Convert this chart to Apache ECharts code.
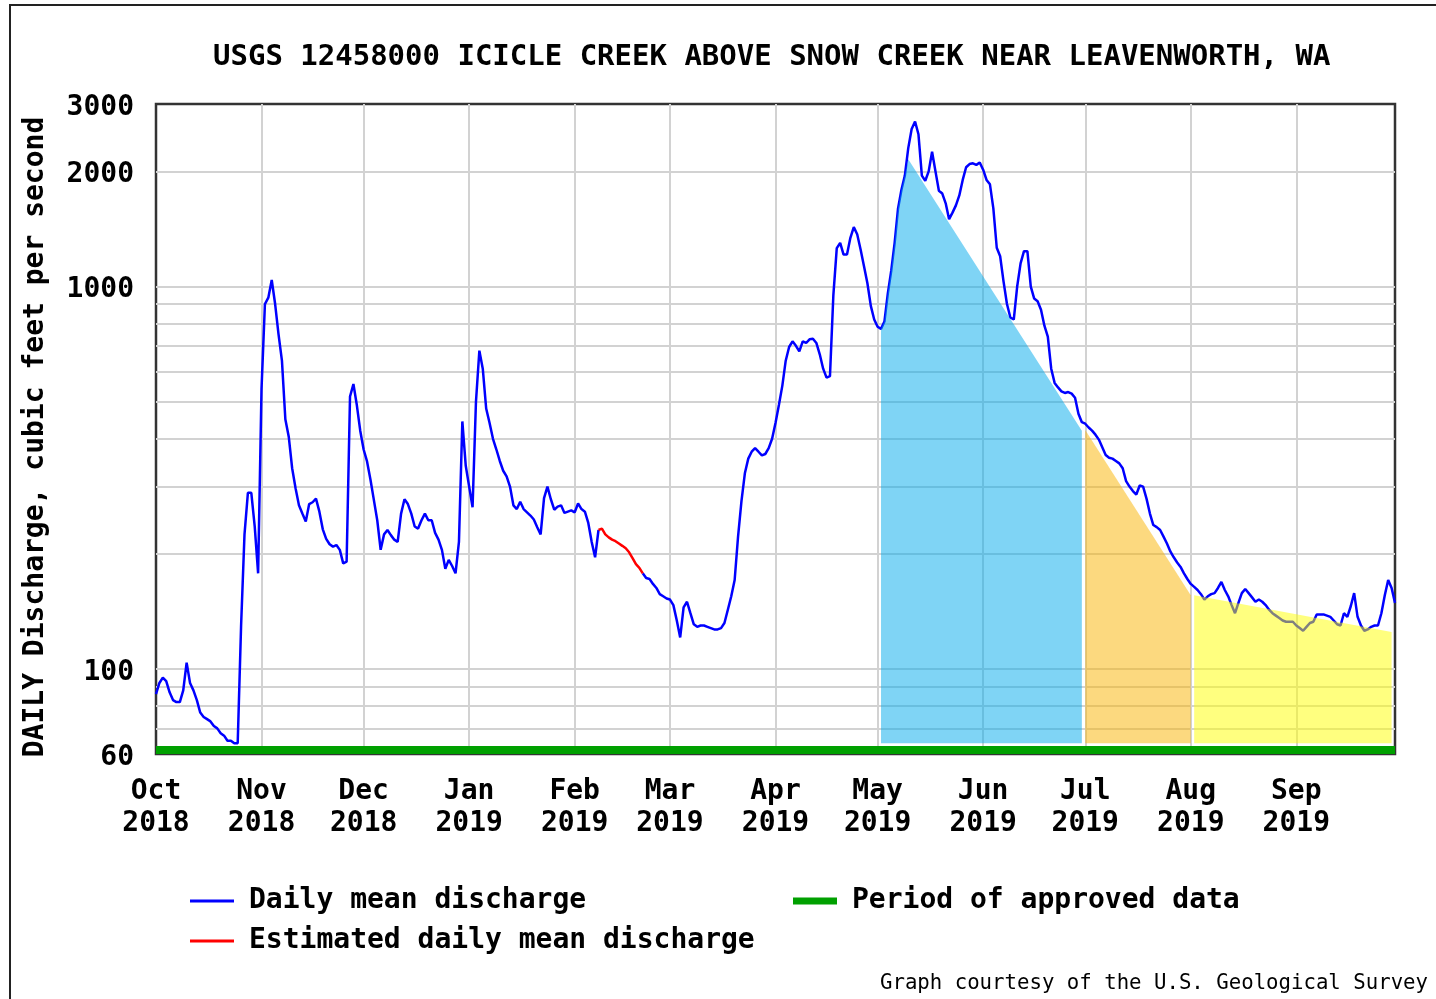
<!DOCTYPE html>
<html>
<head>
<meta charset="utf-8">
<script src="https://cdn.jsdelivr.net/npm/echarts@6/dist/echarts.min.js"></script>
<style>
html,body{margin:0;padding:0;background:#fff;}
#c{width:1436px;height:999px;}
</style>
</head>
<body>
<div id="c"></div>
<script>
// ---- Daily mean discharge, cubic feet per second ----
const oct2018 = [86, 92, 95, 93, 87, 83, 82, 82, 88, 104, 92, 88, 83, 77, 75, 74, 73, 71, 70, 68, 67, 65, 65, 64, 64, 130, 225, 289, 289, 236, 178];
const nov2018 = [540, 900, 935, 1040, 900, 750, 640, 450, 405, 335, 297, 268, 255, 243, 270, 273, 279, 258, 232, 219, 212, 209, 211, 205, 189, 191, 516, 556, 490, 420];
const dec2018 = [375, 349, 313, 277, 245, 205, 225, 231, 224, 218, 215, 255, 278, 270, 255, 236, 233, 245, 255, 245, 245, 227, 218, 205, 183, 193, 186, 178, 215, 444, 340];
const jan2019 = [300, 265, 500, 680, 610, 480, 440, 400, 375, 350, 330, 319, 300, 268, 262, 274, 262, 257, 252, 246, 235, 225, 280, 300, 278, 261, 266, 268, 256, 258, 260];
const feb2019 = [257, 271, 262, 258, 241, 215, 196, 231, 233, 225, 221, 218, 216, 213, 210, 207, 202, 195, 188, 184, 178, 173, 172, 167, 163, 157, 155, 153];
const mar2019 = [152, 147, 134, 121, 145, 150, 140, 131, 129, 130, 130, 129, 128, 127, 127, 128, 132, 143, 155, 171, 222, 275, 325, 355, 370, 378, 370, 362, 365, 378, 400];
const apr2019 = [440, 490, 550, 640, 695, 719, 700, 677, 719, 712, 728, 730, 712, 665, 610, 578, 583, 950, 1260, 1300, 1212, 1212, 1341, 1430, 1370, 1250, 1130, 1020, 890, 820];
const may2019 = [785, 775, 810, 960, 1100, 1300, 1600, 1790, 1950, 2300, 2580, 2700, 2500, 1950, 1890, 2000, 2250, 2000, 1780, 1750, 1650, 1500, 1560, 1630, 1730, 1900, 2050, 2090, 2100, 2080, 2110];
const jun2019 = [2020, 1900, 1850, 1600, 1263, 1200, 1030, 900, 830, 820, 1000, 1150, 1237, 1237, 1000, 930, 915, 870, 790, 740, 610, 560, 545, 532, 527, 530, 525, 512, 465, 442];
const jul2019 = [438, 428, 420, 410, 398, 380, 363, 357, 355, 350, 345, 335, 310, 300, 292, 286, 302, 300, 279, 255, 238, 235, 231, 222, 213, 203, 196, 190, 185, 178, 172];
const aug2019 = [167, 164, 161, 157, 152, 155, 157, 158, 163, 169, 161, 155, 147, 140, 149, 158, 162, 158, 154, 150, 152, 150, 147, 143, 140, 138, 136, 134, 133, 133, 133];
const sep2019 = [130, 128, 126, 129, 132, 133, 139, 139, 139, 138, 137, 134, 131, 130, 140, 137, 146, 158, 137, 130, 126, 127, 129, 130, 130, 140, 156, 171, 163, 149];

const monthBlocks = [
  ['2018-10', oct2018], ['2018-11', nov2018], ['2018-12', dec2018],
  ['2019-01', jan2019], ['2019-02', feb2019], ['2019-03', mar2019],
  ['2019-04', apr2019], ['2019-05', may2019], ['2019-06', jun2019],
  ['2019-07', jul2019], ['2019-08', aug2019], ['2019-09', sep2019]
];

// Estimated (red) stretch and approved-data period
const estimatedFrom = '2019-02-08';
const estimatedTo = '2019-02-21';
const approvedPeriod = ['2018-10-01', '2019-09-30'];

// Shaded recession areas: [date, cfs]
const recessionBlue = [
  ['2019-05-02', 775], ['2019-05-03', 810], ['2019-05-04', 960], ['2019-05-05', 1100],
  ['2019-05-06', 1300], ['2019-05-07', 1600], ['2019-05-08', 1790], ['2019-05-09', 1950],
  ['2019-05-10', 2150], ['2019-06-30', 420]
];
const recessionOrange = [['2019-07-01', 422], ['2019-08-01', 156]];
const recessionYellow = [['2019-08-02', 156], ['2019-09-29', 125]];
const fillBase = 64;

// Axis ticks
const yMin = 60, yMax = 3000;
const yLabelValues = [60, 100, 1000, 2000, 3000];
const yGridValues = [70, 80, 90, 100, 200, 300, 400, 500, 600, 700, 800, 900, 1000, 2000];
const monthNames = ['Jan','Feb','Mar','Apr','May','Jun','Jul','Aug','Sep','Oct','Nov','Dec'];

// ---- Build category dates and series ----
const dates = [];
const discharge = [];
monthBlocks.forEach(([ym, vals]) => {
  vals.forEach((v, i) => {
    dates.push(ym + '-' + String(i + 1).padStart(2, '0'));
    discharge.push(v);
  });
});
const estA = dates.indexOf(estimatedFrom);
const estB = dates.indexOf(estimatedTo);
const measuredData = discharge.map((v, i) => (i > estA && i < estB) ? null : v);
const estimatedData = discharge.map((v, i) => (i >= estA && i <= estB) ? v : null);

const FONT = "'DejaVu Sans Mono', 'Liberation Mono', monospace";
const gridColor = '#d2d2d2';
const boldText = { fontFamily: FONT, fontSize: 28, fontWeight: 'bold', color: '#000' };

function fillSeries(name, pts, color) {
  return {
    type: 'custom',
    name: name,
    silent: true,
    z: 3,
    data: [pts[0]],
    renderItem: function (params, api) {
      const poly = pts.map(p => api.coord(p));
      poly.push(api.coord([pts[pts.length - 1][0], fillBase]));
      poly.push(api.coord([pts[0][0], fillBase]));
      return { type: 'polygon', shape: { points: poly }, style: { fill: color } };
    }
  };
}

const chart = echarts.init(document.getElementById('c'), null, { renderer: 'canvas' });
chart.setOption({
  animation: false,
  backgroundColor: '#ffffff',
  title: [
    {
      text: 'USGS 12458000 ICICLE CREEK ABOVE SNOW CREEK NEAR LEAVENWORTH, WA',
      left: 213, top: 43, padding: 0,
      textStyle: { fontFamily: FONT, fontSize: 29, fontWeight: 'bold', color: '#000' }
    },
    {
      text: 'Graph courtesy of the U.S. Geological Survey',
      right: 8, top: 973, padding: 0,
      textStyle: { fontFamily: FONT, fontSize: 20.7, fontWeight: 'normal', color: '#000' }
    }
  ],
  graphic: [
    { type: 'rect', z: 100, silent: true, shape: { x: 10, y: 5, width: 1440, height: 1010 },
      style: { fill: 'none', stroke: '#222', lineWidth: 2 } }
  ],
  legend: [
    {
      orient: 'vertical', left: 190, top: 887, padding: 0, itemGap: 12,
      itemWidth: 44, itemHeight: 3, icon: 'rect',
      data: ['Daily mean discharge', 'Estimated daily mean discharge'],
      textStyle: Object.assign({ lineHeight: 28, padding: [0, 0, 0, 10] }, boldText)
    },
    {
      orient: 'vertical', left: 793, top: 887, padding: 0,
      itemWidth: 44, itemHeight: 7, icon: 'rect',
      data: ['Period of approved data'],
      textStyle: Object.assign({ lineHeight: 28, padding: [0, 0, 0, 10] }, boldText)
    }
  ],
  grid: {
    left: 156, right: 41, top: 104, bottom: 245,
    show: true, borderColor: '#333', borderWidth: 2.5, backgroundColor: 'transparent'
  },
  xAxis: {
    type: 'category',
    data: dates,
    boundaryGap: false,
    axisLine: { show: false },
    axisTick: { show: false },
    axisLabel: Object.assign({
      interval: (i, v) => v.endsWith('-01'),
      formatter: v => monthNames[parseInt(v.slice(5, 7), 10) - 1] + '\n' + v.slice(0, 4),
      lineHeight: 32, margin: 22
    }, boldText),
    splitLine: {
      show: true,
      interval: (i, v) => i > 0 && v.endsWith('-01'),
      lineStyle: { color: gridColor, width: 2 }
    }
  },
  yAxis: {
    type: 'log',
    logBase: 10,
    min: yMin,
    max: yMax,
    axisLine: { show: false },
    axisTick: { show: false, customValues: yGridValues },
    axisLabel: Object.assign({
      customValues: yLabelValues,
      formatter: v => '{v|' + String(Math.round(v)) + '}',
      margin: 22,
      rich: { v: Object.assign({ padding: [7, 0, 0, 0] }, boldText) }
    }, boldText),
    splitLine: { show: true, lineStyle: { color: gridColor, width: 2 } },
    minorSplitLine: { show: false },
    name: 'DAILY Discharge, cubic feet per second',
    nameLocation: 'middle',
    nameGap: 106,
    nameTextStyle: Object.assign({ padding: [0, 16, 0, 0] }, boldText)
  },
  series: [
    {
      type: 'line', name: 'Daily mean discharge',
      data: measuredData, showSymbol: false, symbol: 'none', connectNulls: false, z: 2,
      itemStyle: { color: '#0000ff' },
      lineStyle: { color: '#0000ff', width: 2.5 }
    },
    {
      type: 'line', name: 'Estimated daily mean discharge',
      data: estimatedData, showSymbol: false, symbol: 'none', connectNulls: false, z: 2,
      itemStyle: { color: '#ff0000' },
      lineStyle: { color: '#ff0000', width: 2.5 }
    },
    fillSeries('recession-1', recessionBlue, 'rgba(0,170,236,0.5)'),
    fillSeries('recession-2', recessionOrange, 'rgba(250,180,0,0.5)'),
    fillSeries('recession-3', recessionYellow, 'rgba(255,255,0,0.5)'),
    {
      type: 'custom', name: 'Period of approved data', silent: true, z: 5,
      itemStyle: { color: '#00a000' },
      data: [[approvedPeriod[0], yMin]],
      renderItem: function (params, api) {
        const a = api.coord([approvedPeriod[0], yMin]);
        const b = api.coord([approvedPeriod[1], yMin]);
        return { type: 'rect', shape: { x: a[0], y: a[1] - 8, width: b[0] - a[0], height: 8 },
                 style: { fill: '#00a000' } };
      }
    }
  ]
});
</script>
</body>
</html>
